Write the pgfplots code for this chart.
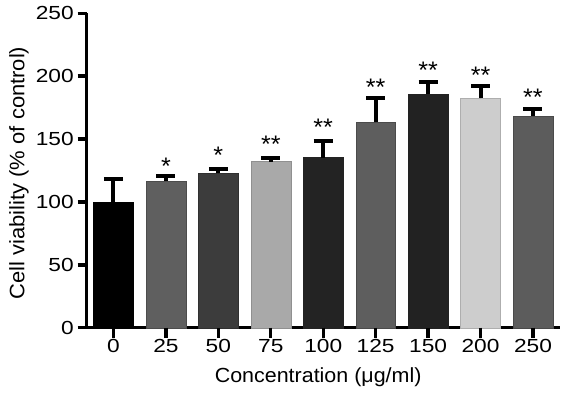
\documentclass[border=0pt]{standalone}
\usepackage{fontspec}
\setmainfont{Liberation Sans}
\newfontfamily\tickfont{Liberation Sans}[FakeStretch=1.2]
\newfontfamily\labfont{Liberation Sans}[FakeStretch=1.05]
\usepackage{pgfplots}
\pgfplotsset{compat=1.18}
\definecolor{c0}{HTML}{000000}
\definecolor{c1}{HTML}{5F5F5F}
\definecolor{c2}{HTML}{3C3C3C}
\definecolor{c3}{HTML}{A9A9A9}
\definecolor{c4}{HTML}{232323}
\definecolor{c5}{HTML}{5E5E5E}
\definecolor{c6}{HTML}{222222}
\definecolor{c7}{HTML}{CDCDCD}
\definecolor{c8}{HTML}{5C5C5C}
\pgfplotsset{
  mybar/.style={ybar, bar width=0.76, bar shift=0pt,
    error bars/y dir=plus, error bars/y explicit,
    error bars/error bar style={line width=4bp, black},
    error bars/error mark options={rotate=90, mark size=9.5bp, line width=4bp, black}},
}
\begin{document}
\begin{tikzpicture}
\useasboundingbox (-86.7bp,-75.3bp) rectangle (479.3bp,327.7bp);
\begin{axis}[
  at={(0,0)}, anchor=south west,
  scale only axis,
  width=473.3bp, height=314.4bp,
  axis x line*=bottom, axis y line*=left,
  axis line style={-, line width=3.4bp},
  xmin=-0.51, xmax=8.515,
  ymin=0, ymax=250,
  ytick={0,50,100,150,200,250},
  xtick={0,1,2,3,4,5,6,7,8},
  xticklabels={0,25,50,75,100,125,150,200,250},
  tick align=outside,
  major tick length=9bp,
  xtick style={draw=black, line width=3.4bp},
  ytick style={draw=black, line width=3.4bp},
  /pgf/number format/assume math mode=true,
  ticklabel style={font=\tickfont\fontsize{19}{21}\selectfont},
  yticklabel style={xshift=-0.5bp},
  xticklabel style={yshift=1bp},
  xlabel={Concentration (μg/ml)},
  ylabel={Cell viability (\% of control)},
  xlabel style={font=\labfont\fontsize{20.5}{23}\selectfont, at={(axis description cs:0.489,-0.159)}, anchor=center},
  ylabel style={font=\labfont\fontsize{21}{23}\selectfont, at={(axis description cs:-0.143,0.492)}, anchor=center},
  clip=false,
]
\addplot[mybar, fill=c0, draw=c0] coordinates {(0,100) +- (0,18)};
\addplot[mybar, fill=c1, draw=c1!80!black] coordinates {(1,116.6) +- (0,4)};
\addplot[mybar, fill=c2, draw=c2!80!black] coordinates {(2,122.8) +- (0,3.5)};
\addplot[mybar, fill=c3, draw=c3!85!black] coordinates {(3,132) +- (0,2.7)};
\addplot[mybar, fill=c4, draw=c4] coordinates {(4,135.3) +- (0,13.5)};
\addplot[mybar, fill=c5, draw=c5!80!black] coordinates {(5,163.3) +- (0,19.5)};
\addplot[mybar, fill=c6, draw=c6] coordinates {(6,185.7) +- (0,9.5)};
\addplot[mybar, fill=c7, draw=c7!85!black] coordinates {(7,182.4) +- (0,9.8)};
\addplot[mybar, fill=c8, draw=c8!80!black] coordinates {(8,168.5) +- (0,5.4)};
\addplot[only marks, mark=none,
  nodes near coords, point meta=explicit symbolic,
  nodes near coords style={anchor=center, font=\labfont\fontsize{24}{26}\selectfont, yshift=-5bp, inner sep=0pt}]
 coordinates {(1,132)[*] (2,141)[*] (3,150)[**] (4,163)[**] (5,195)[**] (6,208.5)[**] (7,205)[**] (8,187)[**]};
\pgfplotsinvokeforeach{0,1,2,3,4,5,6,7,8}{
  \draw[black, line width=3.4bp] (axis cs:#1,0) -- ++(0pt,-10bp);
}
\pgfplotsinvokeforeach{0,50,100,150,200,250}{
  \draw[black, line width=3.4bp] (axis cs:-0.51,#1) -- ++(-8.5bp,0pt);
}
\end{axis}
\end{tikzpicture}
\end{document}
